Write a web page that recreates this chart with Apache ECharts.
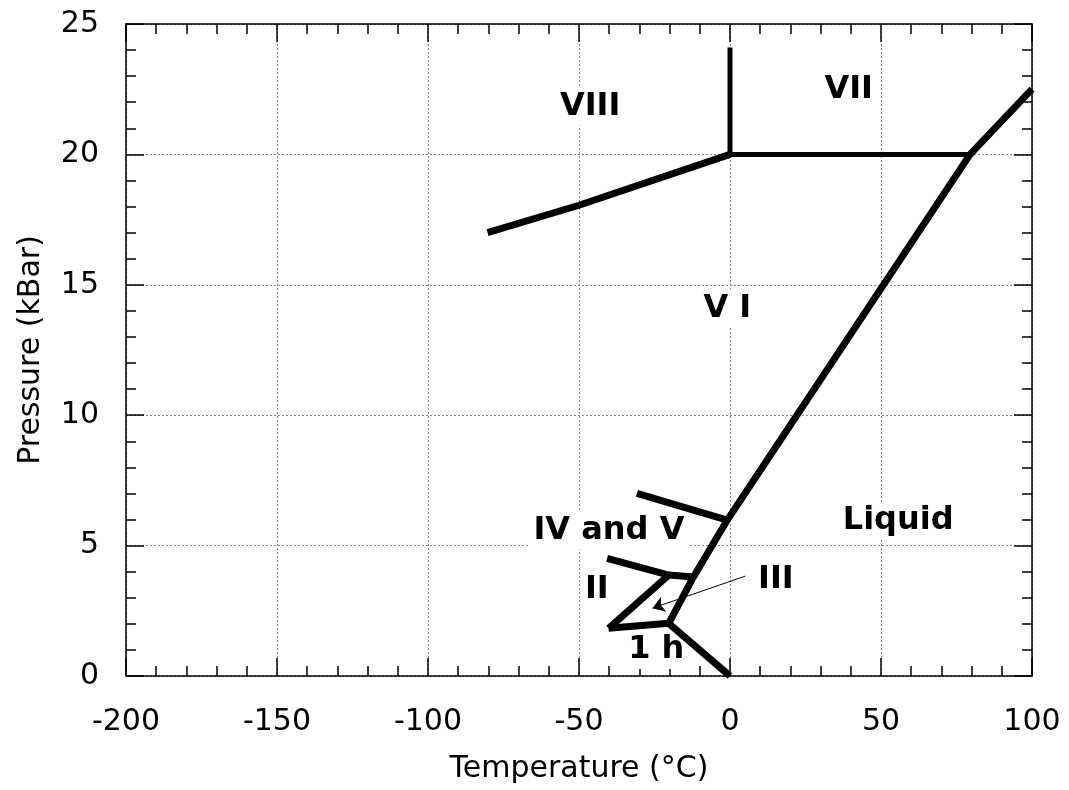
<!DOCTYPE html>
<html>
<head>
<meta charset="utf-8">
<title>Phase diagram of ice</title>
<script src="https://cdn.jsdelivr.net/npm/echarts@6/dist/echarts.min.js"></script>
<style>
  html, body { margin: 0; padding: 0; background: #fff; }
  #chart { width: 1069px; height: 790px; }
</style>
</head>
<body>
<div id="chart"></div>
<script>
// axis ranges / ticks
const xTicks = [-200, -150, -100, -50, 0, 50, 100];
const yTicks = [0, 5, 10, 15, 20, 25];

// phase boundaries [temperature °C, pressure kBar]
const ihLiquid = [[0, 0], [-20.3, 2.02]];
const meltLine = [[-20.3, 2.02], [-12.1, 3.8], [-0.9, 5.98], [79.5, 20], [100, 22.5]];
const ihIII = [[-20.3, 2.02], [-40.2, 1.83]];
const iiIII = [[-40.2, 1.83], [-20.3, 3.87]];
const iiV = [[-40.7, 4.51], [-20.3, 3.87], [-12.1, 3.8]];
const ivV = [[-30.8, 7.0], [-0.9, 5.98]];
const viVIII = [[-80.3, 17.0], [-50, 18.05], [0, 20]];
const viiVIII = [[0, 20], [0, 24.1]];
const viVII = [[0, 20], [79.5, 20]];

// arrow pointing to the III region
const arrowFrom = [5.1, 3.83];
const arrowTo = [-25.7, 2.6];

// region labels
const labelNames = ['VIII', 'VII', 'V I', 'Liquid', 'IV and V', 'II', 'III', '1 h'];
const labelPos = [[-46.3, 21.84], [39.3, 22.47], [-0.9, 14.1], [55.7, 5.94],
  [-40.1, 5.59], [-44.1, 3.3], [15.2, 3.68], [-24.4, 1.0]];

const font = 'DejaVu Sans';

const axisCommon = {
  type: 'value',
  axisLine: { show: true, onZero: false, lineStyle: { color: '#000', width: 1.5 } },
  axisTick: { show: true, inside: true, length: 18, lineStyle: { color: '#000', width: 1.5 } },
  minorTick: { show: true, splitNumber: 5, length: 10, lineStyle: { color: '#000', width: 1.5 } },
};

const thick = (data) => ({
  type: 'line', data, showSymbol: false, symbol: 'none', z: 5, silent: true,
  lineStyle: { color: '#000', width: 7, cap: 'butt', join: 'miter' }
});
const thin = (data) => ({
  type: 'line', data, showSymbol: false, symbol: 'none', z: 5, silent: true,
  lineStyle: { color: '#000', width: 5, cap: 'butt', join: 'miter' }
});

const chart = echarts.init(document.getElementById('chart'), null, { renderer: 'canvas' });

chart.setOption({
  animation: false,
  backgroundColor: '#fff',
  grid: { left: 126, right: 37, top: 24, bottom: 114 },
  xAxis: [
    Object.assign({}, axisCommon, {
      position: 'bottom',
      min: xTicks[0], max: xTicks[xTicks.length - 1], interval: 50,
      name: 'Temperature (°C)', nameLocation: 'middle', nameGap: 78,
      nameTextStyle: { fontFamily: font, fontSize: 30, color: '#000' },
      axisLabel: { fontFamily: font, fontSize: 30, color: '#000', margin: 31 },
      splitLine: { show: true, lineStyle: { color: '#888', type: [2, 2], width: 1 } }
    }),
    Object.assign({}, axisCommon, {
      position: 'top',
      min: xTicks[0], max: xTicks[xTicks.length - 1], interval: 50,
      axisLabel: { show: false },
      splitLine: { show: false }
    })
  ],
  yAxis: [
    Object.assign({}, axisCommon, {
      position: 'left',
      min: yTicks[0], max: yTicks[yTicks.length - 1], interval: 5,
      name: 'Pressure (kBar)', nameLocation: 'middle', nameGap: 80,
      nameTextStyle: { fontFamily: font, fontSize: 30, color: '#000' },
      axisLabel: { fontFamily: font, fontSize: 30, color: '#000', margin: 27 },
      splitLine: { show: true, lineStyle: { color: '#888', type: [2, 2], width: 1 } }
    }),
    Object.assign({}, axisCommon, {
      position: 'right',
      min: yTicks[0], max: yTicks[yTicks.length - 1], interval: 5,
      axisLabel: { show: false },
      splitLine: { show: false }
    })
  ],
  series: [
    {
      type: 'scatter', symbolSize: 0, z: 3, silent: true,
      itemStyle: { opacity: 1, color: '#000' },
      data: labelNames.map((n, i) => ({ name: n, value: labelPos[i] })),
      label: {
        show: true, position: 'inside', formatter: '{b}', opacity: 1,
        fontFamily: font, fontWeight: 'bold', fontSize: 32, color: '#000',
        textBorderWidth: 0, backgroundColor: '#fff', padding: [3, 4]
      }
    },
    thick(ihLiquid),
    thick(meltLine),
    thick(ihIII),
    thick(iiIII),
    thick(iiV),
    thick(ivV),
    thick(viVIII),
    thin(viiVIII),
    thin(viVII),
    {
      type: 'lines', coordinateSystem: 'cartesian2d', z: 6, silent: true,
      symbol: ['none', 'arrow'], symbolSize: [0, 12],
      lineStyle: { color: '#000', width: 1, opacity: 1 },
      data: [{ coords: [arrowFrom, arrowTo] }]
    }
  ]
});
</script>
</body>
</html>
